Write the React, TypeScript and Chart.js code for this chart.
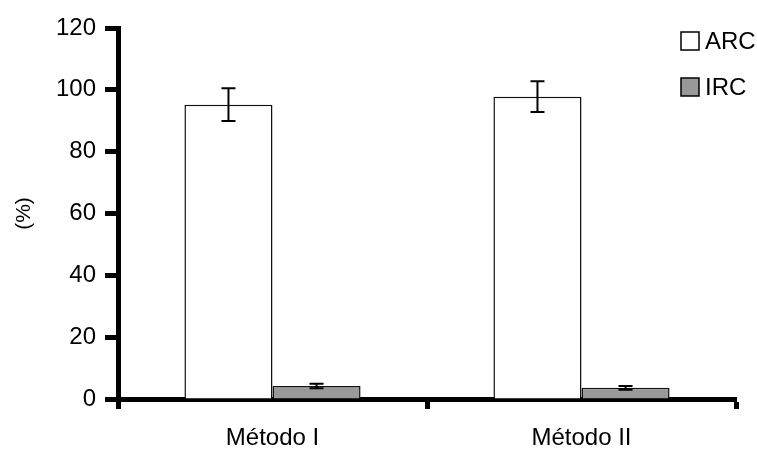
import React, { useEffect, useRef } from "react";
import { Chart, registerables } from "chart.js";

Chart.register(...registerables);

const categories = ["Método I", "Método II"];
const arcValues = [95.2, 97.8];
const arcErrors = [5.3, 5.0];
const ircValues = [4.2, 3.6];
const ircErrors = [0.7, 0.6];
const yTicks = [0, 20, 40, 60, 80, 100, 120];

const FONT = "'Liberation Sans', Arial, sans-serif";

const errorBarPlugin = {
  id: "errorBars",
  afterDatasetsDraw(chart: any) {
    const ctx = chart.ctx;
    const yScale = chart.scales.y;
    chart.data.datasets.forEach((ds: any, i: number) => {
      const meta = chart.getDatasetMeta(i);
      const errs: number[] = ds.errors || [];
      meta.data.forEach((bar: any, j: number) => {
        const v = ds.data[j];
        const e = errs[j];
        if (e == null) return;
        const x = bar.x;
        const yTop = yScale.getPixelForValue(v + e);
        const yBot = yScale.getPixelForValue(v - e);
        ctx.save();
        ctx.strokeStyle = "#000";
        ctx.lineWidth = 2;
        ctx.beginPath();
        ctx.moveTo(x, yTop);
        ctx.lineTo(x, yBot);
        ctx.moveTo(x - 7, yTop);
        ctx.lineTo(x + 7, yTop);
        ctx.moveTo(x - 7, yBot);
        ctx.lineTo(x + 7, yBot);
        ctx.stroke();
        ctx.restore();
      });
    });
  },
};

const legendPlugin = {
  id: "customLegend",
  afterDraw(chart: any) {
    const ctx = chart.ctx;
    const x0 = 681;
    const ys = [32, 78];
    chart.data.datasets.forEach((ds: any, i: number) => {
      const y = ys[i];
      ctx.save();
      ctx.fillStyle = ds.backgroundColor;
      ctx.fillRect(x0, y, 18, 18);
      ctx.strokeStyle = "#000";
      ctx.lineWidth = 1.5;
      ctx.strokeRect(x0, y, 18, 18);
      ctx.fillStyle = "#000";
      ctx.font = `24px ${FONT}`;
      ctx.textBaseline = "middle";
      ctx.textAlign = "left";
      ctx.fillText(ds.label, x0 + 24, y + 10);
      ctx.restore();
    });
  },
};

export default function App() {
  const ref = useRef<HTMLCanvasElement>(null);
  useEffect(() => {
    if (!ref.current) return;
    const chart = new Chart(ref.current, {
      type: "bar",
      data: {
        labels: categories,
        datasets: [
          {
            label: "ARC",
            data: arcValues,
            errors: arcErrors,
            backgroundColor: "#ffffff",
            borderColor: "#111",
            borderWidth: 1.5,
          } as any,
          {
            label: "IRC",
            data: ircValues,
            errors: ircErrors,
            backgroundColor: "#999999",
            borderColor: "#111",
            borderWidth: 1.5,
          } as any,
        ],
      },
      options: {
        animation: false,
        responsive: true,
        maintainAspectRatio: false,
        layout: { padding: { left: 0, top: 28, right: 21, bottom: 0 } },
        datasets: { bar: { barPercentage: 1, categoryPercentage: 0.57 } },
        plugins: { legend: { display: false }, tooltip: { enabled: false } },
        scales: {
          x: {
            offset: true,
            grid: {
              offset: true,
              drawOnChartArea: false,
              drawTicks: true,
              tickLength: 10,
              tickWidth: 5,
              tickColor: "#000",
            },
            border: { display: true, color: "#000", width: 5 },
            ticks: { color: "#000", font: { family: FONT, size: 24 }, padding: 15 },
            afterFit(scale: any) {
              scale.height = 54;
            },
          },
          y: {
            min: 0,
            max: 120,
            afterBuildTicks(scale: any) {
              scale.ticks = yTicks.map((v) => ({ value: v }));
            },
            grid: {
              drawOnChartArea: false,
              drawTicks: true,
              tickLength: 13,
              tickWidth: 5,
              tickColor: "#000",
            },
            border: { display: true, color: "#000", width: 5 },
            ticks: { color: "#000", font: { family: FONT, size: 24 }, padding: 9 },
            title: {
              display: true,
              text: "(%)",
              color: "#000",
              font: { family: FONT, size: 21 },
              padding: { top: 12, bottom: 0 },
            },
            afterFit(scale: any) {
              scale.width = 118;
            },
          },
        },
      },
      plugins: [errorBarPlugin, legendPlugin],
    });
    return () => chart.destroy();
  }, []);
  return (
    <div style={{ position: "fixed", left: 0, top: 0, width: 757, height: 453, background: "#fff" }}>
      <canvas ref={ref} />
    </div>
  );
}
